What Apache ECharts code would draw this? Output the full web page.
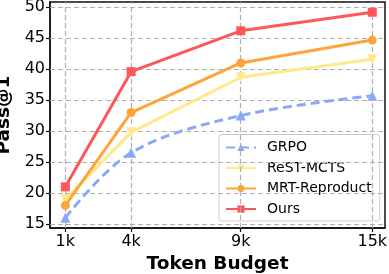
<!DOCTYPE html>
<html><head><meta charset="utf-8">
<script src="https://cdn.jsdelivr.net/npm/echarts@6/dist/echarts.min.js"></script>
<style>html,body{margin:0;padding:0;background:#fff}#c{width:389px;height:274px}</style>
</head><body><div id="c"></div>
<script>
const budgets = [1, 4, 9, 15];
const xTickLabels = ['1k', '4k', '9k', '15k'];
const yTicks = [15, 20, 25, 30, 35, 40, 45, 50];
const grpo = [16.0, 26.5, 32.5, 35.7];
const rest = [19.0, 29.8, 38.7, 41.6];
const mrt = [18.0, 33.0, 41.0, 44.7];
const ours = [21.0, 39.6, 46.2, 49.2];

const pair = arr => budgets.map((b, i) => [b, arr[i]]);
const chart = echarts.init(document.getElementById('c'), null, {renderer: 'canvas'});
const F = 'DejaVu Sans';
const gridStyle = {color: '#b0b0b0', type: [5, 3], width: 1.2};
function mkSeries(name, data, color, symbol, size, extra) {
  return Object.assign({
    name, type: 'line', data: pair(data), symbol, symbolSize: size,
    lineStyle: {color, width: 3}, itemStyle: {color}, z: 5
  }, extra || {});
}
chart.setOption({
  animation: false,
  textStyle: {fontFamily: F},
  grid: {left: 50, right: 4, top: 2, bottom: 46, containLabel: false, outerBoundsMode: 'none', show: true, borderColor: '#111', borderWidth: 1.5, backgroundColor: 'transparent'},
  legend: {
    left: 219, bottom: 53, orient: 'vertical',
    itemWidth: 30, itemHeight: 9, itemGap: 6.5,
    padding: [6, 8, 5, 6],
    backgroundColor: 'rgba(255,255,255,0.85)', borderColor: '#cccccc', borderWidth: 1, borderRadius: 3,
    textStyle: {fontFamily: F, fontSize: 14, color: '#000', padding: [0, 0, 0, 6]},
    data: ['GRPO', 'ReST-MCTS', 'MRT-Reproduct', 'Ours']
  },
  xAxis: {
    type: 'value', min: 0.3, max: 15.58,
    name: 'Token Budget', nameLocation: 'middle', nameGap: 25.5,
    nameTextStyle: {fontFamily: F, fontSize: 18.5, fontWeight: 'bold', color: '#000'},
    axisLine: {show: true, lineStyle: {color: '#111', width: 1.5}},
    axisTick: {show: true, customValues: budgets, length: 4, lineStyle: {color: '#111', width: 1.2}},
    axisLabel: {customValues: budgets, formatter: v => xTickLabels[budgets.indexOf(v)] || '', fontFamily: F, fontSize: 16, color: '#000', margin: 6},
    splitLine: {show: false}
  },
  yAxis: {
    type: 'value', min: 14.35, max: 50.85,
    name: 'Pass@1', nameLocation: 'middle', nameGap: 28,
    nameTextStyle: {fontFamily: F, fontSize: 18.5, fontWeight: 'bold', color: '#000'},
    axisLine: {show: true, lineStyle: {color: '#111', width: 1.5}},
    axisTick: {show: true, customValues: yTicks, length: 4, lineStyle: {color: '#111', width: 1.2}},
    axisLabel: {customValues: yTicks, fontFamily: F, fontSize: 16, color: '#000', margin: 5},
    splitLine: {show: false}
  },
  series: [
    {
      type: 'line', data: [], z: 1, silent: true,
      markLine: {
        silent: true, symbol: 'none', label: {show: false}, animation: false,
        lineStyle: gridStyle,
        data: budgets.map(b => ({xAxis: b})).concat(yTicks.map(v => ({yAxis: v})))
      }
    },
    mkSeries('GRPO', grpo, '#8aa8f8', 'triangle', 10, {smooth: 0.35, lineStyle: {color: '#8aa8f8', width: 3, type: [9, 5]}}),
    mkSeries('ReST-MCTS', rest, '#ffe98a', 'path://M0,0 L10,0 L5,9 Z', 10),
    mkSeries('MRT-Reproduct', mrt, '#ffa43a', 'circle', 9),
    mkSeries('Ours', ours, '#ff5757', 'rect', 9)
  ]
});
</script></body></html>
